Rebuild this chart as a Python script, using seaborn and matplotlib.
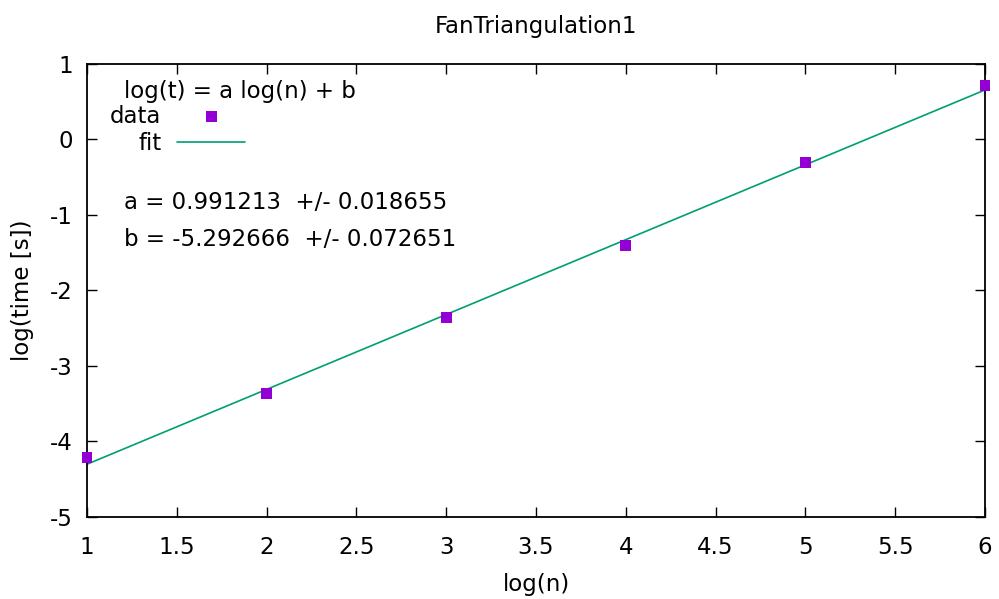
import matplotlib
matplotlib.use("Agg")
import matplotlib.pyplot as plt
import seaborn as sns
import numpy as np
import pandas as pd

title = "FanTriangulation1"
log_n = [1, 2, 3, 4, 5, 6]
log_t = [-4.21, -3.36, -2.36, -1.41, -0.31, 0.71]
fit_a = 0.991213
fit_b = -5.292666
fit_a_err = 0.018655
fit_b_err = 0.072651
xticks = [1, 1.5, 2, 2.5, 3, 3.5, 4, 4.5, 5, 5.5, 6]
yticks = [-5, -4, -3, -2, -1, 0, 1]

sns.set_style("ticks")
plt.rcParams['font.family'] = ['DejaVu Sans']
plt.rcParams['text.color'] = 'black'
plt.rcParams['axes.labelcolor'] = 'black'
FS = 16.5

fig = plt.figure(figsize=(9.99, 5.99), dpi=100)
ax = fig.add_axes([0.0871, 0.1369, 0.8989, 0.7565])

df = pd.DataFrame({"x": log_n, "y": log_t})
fx = np.array([log_n[0], log_n[-1]], dtype=float)
fit_df = pd.DataFrame({"x": fx, "y": fit_a * fx + fit_b})

sns.scatterplot(data=df, x="x", y="y", ax=ax, marker="s", s=60,
                color="#9400d3", edgecolor="none", label="data", zorder=3, clip_on=False)
sns.lineplot(data=fit_df, x="x", y="y", ax=ax, color="#009e73", lw=1.2,
             label="fit", zorder=2)

ax.set_xlim(1, 6)
ax.set_ylim(-5, 1)
ax.set_xticks(xticks)
ax.set_xticklabels([f"{t:g}" for t in xticks])
ax.set_yticks(yticks)
ax.set_yticklabels([f"{t:g}" for t in yticks])
ax.tick_params(direction="in", length=7, width=1, top=True, right=True,
               labelsize=FS, colors="black")
ax.tick_params(axis="x", pad=13.5)
ax.tick_params(axis="y", pad=10)
for s in ax.spines.values():
    s.set_visible(True)
    s.set_linewidth(1.3)
    s.set_color("black")

ax.set_xlabel("log(n)", fontsize=FS, labelpad=10)
ax.set_ylabel("log(time [s])", fontsize=FS, labelpad=11.5)
ax.set_title(title, fontsize=FS, pad=22)

leg = ax.legend(loc="upper left", frameon=False, markerfirst=False,
                fontsize=FS, handlelength=2.95, handletextpad=0.7,
                borderpad=0, borderaxespad=0, labelspacing=0.17,
                bbox_to_anchor=(0.0256, 0.910))

ax.text(0.041, 0.938, "log(t) = a log(n) + b", transform=ax.transAxes,
        fontsize=FS, va="center", ha="left")
ax.text(0.041, 0.694, f"a = {fit_a:.6f}  +/- {fit_a_err:.6f}", transform=ax.transAxes,
        fontsize=FS, va="center", ha="left")
ax.text(0.041, 0.612, f"b = {fit_b:.6f}  +/- {fit_b_err:.6f}", transform=ax.transAxes,
        fontsize=FS, va="center", ha="left")

fig.savefig("out.png", dpi=100)
